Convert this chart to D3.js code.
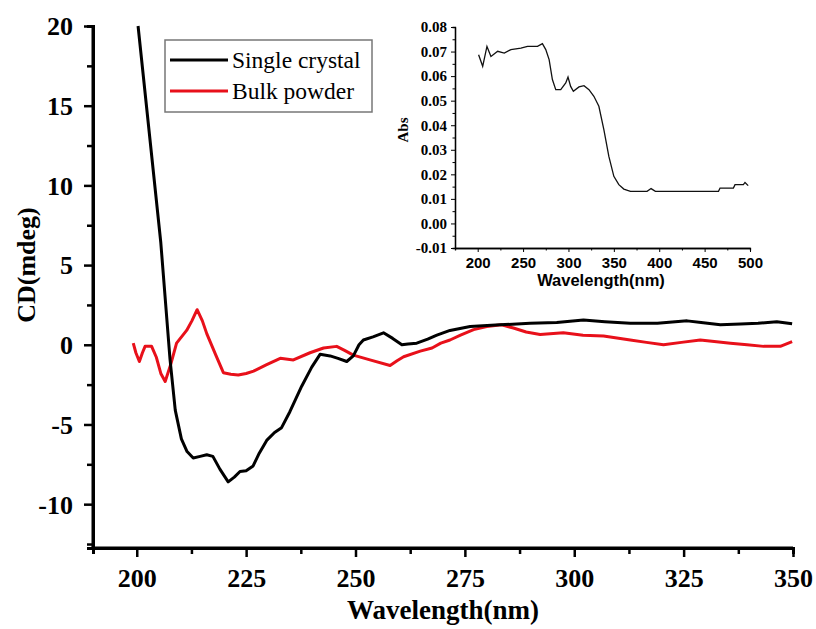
<!DOCTYPE html>
<html><head><meta charset="utf-8">
<script src="https://cdn.jsdelivr.net/npm/d3@7"></script>
<style>
html,body{margin:0;padding:0;background:#fff;}
svg{display:block;}
</style></head>
<body>
<svg id="chart" width="816" height="629"></svg>
<script>
// ---------- data ----------
const scWl = [200.3,205.5,207.6,208.8,210.2,211.5,212.9,214.5,216,217.4,219,220.9,222.3,223.6,225,226.6,228,229.7,231.5,233.1,235,237.7,240,241.9,244.2,246,248,249.5,250.8,251.8,254,256.4,258.5,260.6,262,264,266.5,268.6,271.6,276.2,283,289.9,296,302.1,307,312.8,319,325.8,329,333.4,338,342,346.3,349.8];
const scCD = [20,6.4,-0.9,-4.1,-5.9,-6.7,-7.1,-7.0,-6.9,-7.0,-7.8,-8.6,-8.3,-7.95,-7.9,-7.6,-6.8,-6.0,-5.5,-5.2,-4.2,-2.6,-1.4,-0.6,-0.7,-0.85,-1.05,-0.7,0.0,0.3,0.5,0.75,0.4,0.0,0.05,0.1,0.35,0.6,0.9,1.15,1.25,1.35,1.4,1.55,1.45,1.35,1.35,1.5,1.4,1.25,1.3,1.35,1.45,1.32];
const bpWl = [199.2,199.8,200.6,201.3,201.9,203.4,204.5,205.5,206.5,207.8,209.1,211.4,212.6,213.8,215,216,218,219.8,221.5,223.2,225,226.7,229.7,232.8,235.8,239.6,242.7,245.7,247.5,249.5,253.3,257.9,259.5,261,264.8,267.5,269.5,271.6,274,277,280,283.4,286.1,289,292.2,297.5,302,306.7,312.8,316.5,320.4,324.5,328.8,332,335.7,339.5,343.3,347.1,349.8];
const bpCD = [0.1,-0.5,-1.05,-0.5,-0.1,-0.1,-0.8,-1.8,-2.3,-1.2,0.1,0.9,1.5,2.2,1.5,0.7,-0.6,-1.75,-1.85,-1.9,-1.8,-1.65,-1.25,-0.85,-0.95,-0.5,-0.2,-0.1,-0.35,-0.65,-0.95,-1.3,-1.0,-0.75,-0.4,-0.2,0.1,0.3,0.6,0.95,1.15,1.25,1.05,0.8,0.65,0.75,0.6,0.55,0.3,0.15,0.0,0.15,0.3,0.2,0.1,0.0,-0.1,-0.1,0.2];
const absWl = [201,205.5,210.2,214.6,222,229.3,236.6,247.6,254.9,265.9,271.3,275,278.7,282.3,286,291.5,297,299.5,302.4,305.4,311.6,317.1,322.6,328,333.5,339,344.5,350,355.5,361,368.3,386.6,391,395.8,423.2,465.3,467,481.7,483.5,492.7,494.5,498];
const absVal = [0.0687,0.064,0.0721,0.068,0.0701,0.0694,0.0708,0.0714,0.0721,0.0721,0.0732,0.0708,0.0667,0.0586,0.0545,0.0545,0.0572,0.0596,0.0558,0.0538,0.0556,0.0561,0.0545,0.0518,0.0477,0.0382,0.0273,0.0192,0.0158,0.014,0.0131,0.0131,0.0142,0.0131,0.0131,0.0131,0.0144,0.0144,0.0158,0.0158,0.0167,0.0154];
const seriesNames = ["Single crystal","Bulk powder"];
const seriesColors = ["#000000","#e8101a"];
const xTicks = [200,225,250,275,300,325,350];
const yTicks = [-10,-5,0,5,10,15,20];
const insetXTicks = [200,250,300,350,400,450,500];
const insetYTicks = [-0.01,0,0.01,0.02,0.03,0.04,0.05,0.06,0.07,0.08];

// ---------- main chart ----------
const svg = d3.select("#chart");
const serif = "'Liberation Serif','Times New Roman',serif";
const sans = "'Liberation Sans',Arial,sans-serif";
const hyph = f => (v => f(v).replace("\u2212","-"));

const x = d3.scaleLinear().domain([190,350]).range([93,793]);
const y = d3.scaleLinear().domain([-12.75,20]).range([548,26]);

const xMinor = d3.range(212.5,350,25);
const yMinorVals = [-12.5,-7.5,-2.5,2.5,7.5,12.5,17.5];

const gx = svg.append("g").attr("transform","translate(0,548)");
gx.call(d3.axisBottom(x).tickValues(xTicks).tickSize(9).tickSizeOuter(0).tickFormat(hyph(d3.format("d"))));
gx.append("g").call(d3.axisBottom(x).tickValues(xMinor).tickSize(6).tickFormat(""));
const gy = svg.append("g").attr("transform","translate(93,0)");
gy.call(d3.axisLeft(y).tickValues(yTicks).tickSize(9).tickSizeOuter(0).tickFormat(hyph(d3.format("d"))));
gy.append("g").call(d3.axisLeft(y).tickValues(yMinorVals).tickSize(6).tickFormat(""));
[gx,gy].forEach(g=>{
  g.selectAll("path.domain").attr("stroke","#000").attr("stroke-width",3);
  g.selectAll(".tick line").attr("stroke","#000").attr("stroke-width",2.5);
  g.selectAll("text").attr("font-family",serif).attr("font-weight","bold").attr("font-size",26).attr("fill","#000");
});
gx.selectAll("text").attr("y",39).attr("dy",0);
gy.selectAll("text").attr("x",-20).attr("dy","0.34em");
gx.select("path.domain").attr("d","M91.5,0H793");
gy.select("path.domain").attr("d","M0,549.5V26");

svg.append("text").attr("x",443).attr("y",619).attr("text-anchor","middle")
  .attr("font-family",serif).attr("font-weight","bold").attr("font-size",27)
  .text("Wavelength(nm)");
svg.append("text").attr("transform","translate(35,265) rotate(-90)").attr("text-anchor","middle")
  .attr("font-family",serif).attr("font-weight","bold").attr("font-size",26)
  .text("CD(mdeg)");

const line = d3.line().x(d=>x(d[0])).y(d=>y(d[1]));
const scData = scWl.map((w,i)=>[w,scCD[i]]);
const bpData = bpWl.map((w,i)=>[w,bpCD[i]]);
svg.append("path").datum(bpData).attr("d",line).attr("fill","none")
  .attr("stroke",seriesColors[1]).attr("stroke-width",3).attr("stroke-linejoin","round");
svg.append("path").datum(scData).attr("d",line).attr("fill","none")
  .attr("stroke",seriesColors[0]).attr("stroke-width",3).attr("stroke-linejoin","round");

// legend
const lg = svg.append("g");
lg.append("rect").attr("x",165).attr("y",40).attr("width",207).attr("height",72)
  .attr("fill","#fff").attr("stroke","#777").attr("stroke-width",1.5);
seriesNames.forEach((n,i)=>{
  const yy = 60 + i*31;
  lg.append("line").attr("x1",170).attr("x2",228).attr("y1",yy).attr("y2",yy)
    .attr("stroke",seriesColors[i]).attr("stroke-width",3);
  lg.append("text").attr("x",232).attr("y",yy+8).attr("font-family",serif)
    .attr("font-size",23.5).attr("fill","#000").text(n);
});

// ---------- inset ----------
const ix = d3.scaleLinear().domain([175,500]).range([455,750]);
const iy = d3.scaleLinear().domain([-0.01,0.08]).range([248,27]);
const igx = svg.append("g").attr("transform","translate(0,248)");
igx.call(d3.axisBottom(ix).tickValues(insetXTicks).tickSize(4).tickSizeOuter(0).tickFormat(d3.format("d")));
igx.append("g").call(d3.axisBottom(ix).tickValues(d3.range(225,500,50)).tickSize(2.5).tickFormat(""));
const igy = svg.append("g").attr("transform","translate(455,0)");
igy.call(d3.axisLeft(iy).tickValues(insetYTicks).tickSize(4).tickSizeOuter(0).tickFormat(hyph(d3.format(".2f"))));
igy.append("g").call(d3.axisLeft(iy).tickValues(d3.range(-0.005,0.08,0.01)).tickSize(2.5).tickFormat(""));
[igx,igy].forEach(g=>{
  g.selectAll("path.domain").attr("stroke","#000").attr("stroke-width",1.3);
  g.selectAll(".tick line").attr("stroke","#000").attr("stroke-width",1);
  g.selectAll("text").attr("font-weight","bold").attr("fill","#000");
});
igy.selectAll("text").attr("font-family",serif).attr("font-size",15).attr("x",-8);
igx.selectAll("text").attr("font-family",sans).attr("font-size",15).attr("y",20).attr("dy",0);
svg.append("text").attr("x",601).attr("y",286).attr("text-anchor","middle")
  .attr("font-family",sans).attr("font-weight","bold").attr("font-size",16.5)
  .text("Wavelength(nm)");
svg.append("text").attr("transform","translate(408,130) rotate(-90)").attr("text-anchor","middle")
  .attr("font-family",serif).attr("font-weight","bold").attr("font-size",15)
  .text("Abs");
const iline = d3.line().x(d=>ix(d[0])).y(d=>iy(d[1]));
svg.append("path").datum(absWl.map((w,i)=>[w,absVal[i]])).attr("d",iline)
  .attr("fill","none").attr("stroke","#111").attr("stroke-width",1.3);
</script>
</body></html>
